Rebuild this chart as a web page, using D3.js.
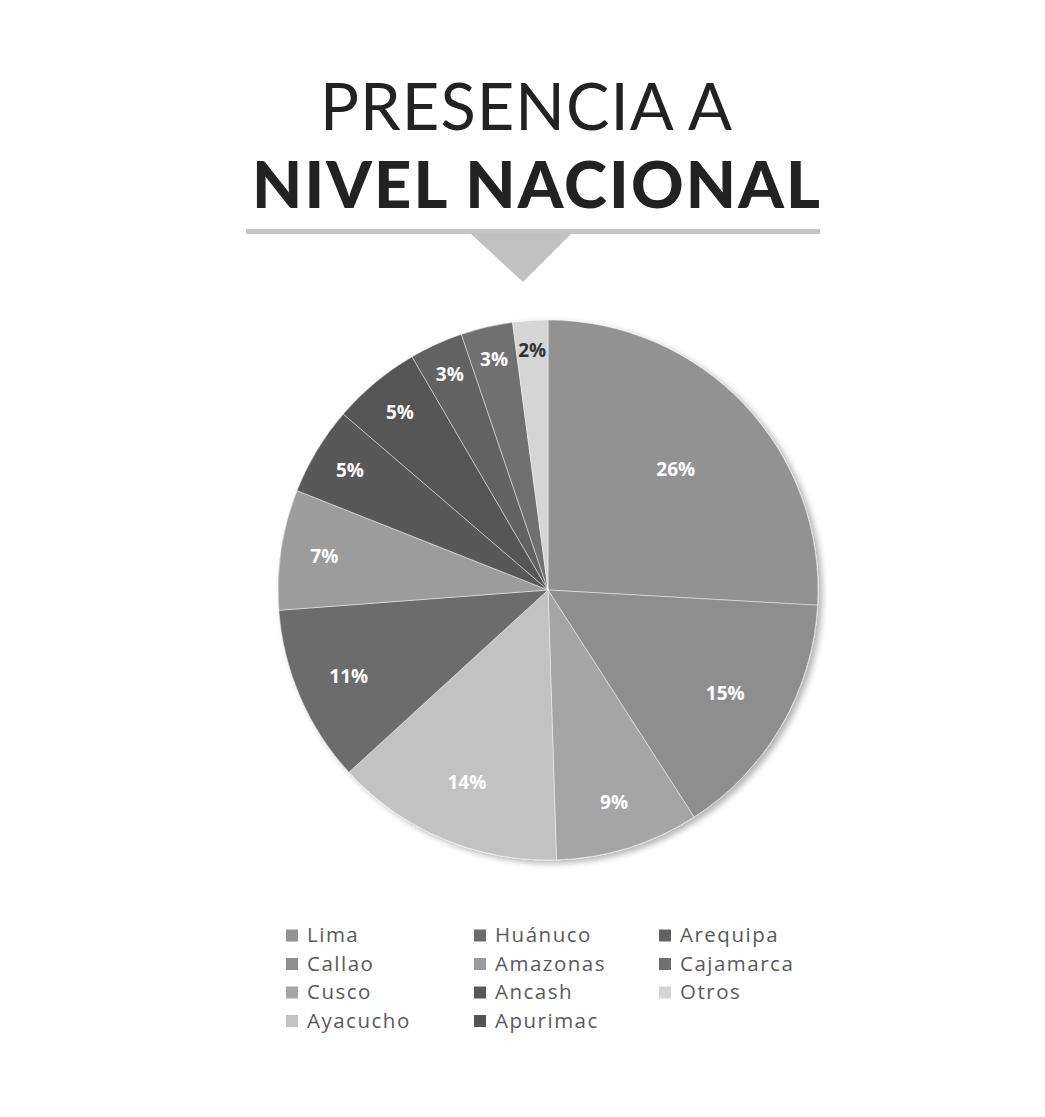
<!DOCTYPE html>
<html>
<head>
<meta charset="utf-8">
<script src="https://cdnjs.cloudflare.com/ajax/libs/d3/7.8.5/d3.min.js"></script>
<style>
  body { margin: 0; background: #fff; }
  svg { display: block; }
</style>
</head>
<body>
<div id="chart"></div>
<script>
var svgWidth = 1045;
var svgHeight = 1117;

var regions = ["Lima", "Callao", "Cusco", "Ayacucho", "Huánuco", "Amazonas", "Ancash", "Apurimac", "Arequipa", "Cajamarca", "Otros"];
var shares = [25.9, 15, 8.6, 13.7, 10.6, 7.2, 5.3, 5.3, 3.2, 3.1, 2.1];
var grays = ["#929292", "#8e8e8e", "#a5a5a5", "#c2c2c2", "#6c6c6c", "#9c9c9c", "#585858", "#555555", "#626262", "#707070", "#d5d5d5"];
var titleTop = "PRESENCIA A";
var titleBottom = "NIVEL NACIONAL";

var center = { x: 548, y: 590 };
var radius = 270;

var svg = d3.select("#chart")
  .append("svg")
  .attr("width", svgWidth)
  .attr("height", svgHeight);

var defs = svg.append("defs");
var shadow = defs.append("filter")
  .attr("id", "shadow")
  .attr("x", "-10%").attr("y", "-10%")
  .attr("width", "125%").attr("height", "125%");
shadow.append("feDropShadow")
  .attr("dx", 4).attr("dy", 3)
  .attr("stdDeviation", 3)
  .attr("flood-color", "#000")
  .attr("flood-opacity", 0.3);

// ---- title block
function drawTitle() {
  var g = svg.append("g");
  g.append("text")
    .attr("x", 320)
    .attr("y", 130)
    .attr("textLength", 412)
    .attr("lengthAdjust", "spacing")
    .style("font-family", "Lato, 'Open Sans', sans-serif")
    .style("font-weight", 400)
    .style("font-size", "65px")
    .style("fill", "#222")
    .text(titleTop);

  g.append("text")
    .attr("x", 252)
    .attr("y", 208)
    .attr("textLength", 568)
    .attr("lengthAdjust", "spacing")
    .style("font-family", "Lato, 'Open Sans', sans-serif")
    .style("font-weight", 900)
    .style("font-size", "65px")
    .style("fill", "#222")
    .text(titleBottom);

  g.append("rect")
    .attr("x", 246)
    .attr("y", 229)
    .attr("width", 574)
    .attr("height", 5)
    .attr("fill", "#c4c4c4");

  g.append("path")
    .attr("d", "M470,233 L572,233 L523,282 Z")
    .attr("fill", "#c1c1c1");
}

// ---- pie
function drawPie() {
  var pieData = d3.pie()
    .sort(null)
    .value(d => d.value)(regions.map((r, i) => ({ name: r, value: shares[i], color: grays[i] })));

  var total = d3.sum(shares);
  var arc = d3.arc().innerRadius(0).outerRadius(radius);

  var g = svg.append("g")
    .attr("transform", `translate(${center.x}, ${center.y})`);

  g.append("g")
    .attr("filter", "url(#shadow)")
    .selectAll("path")
    .data(pieData)
    .enter()
    .append("path")
    .attr("d", arc)
    .attr("fill", d => d.data.color)
    .attr("stroke", "rgba(255,255,255,0.45)")
    .attr("stroke-width", 1);

  // labels sit further out for the thin slices
  g.selectAll(".lbl")
    .data(pieData)
    .enter()
    .append("text")
    .attr("class", "lbl")
    .attr("transform", function(d) {
      var lr = radius * (0.91 - d.data.value / total);
      var c = d3.arc().innerRadius(lr).outerRadius(lr).centroid(d);
      return `translate(${c[0]}, ${c[1]})`;
    })
    .attr("dy", "0.36em")
    .style("text-anchor", "middle")
    .style("font-family", "'Open Sans', sans-serif")
    .style("font-weight", 700)
    .style("font-size", "19px")
    .style("fill", d => d3.hsl(d.data.color).l > 0.78 ? "#333" : "#fff")
    .text(d => Math.round(d.data.value) + "%");
}

// ---- legend, filled column by column (4 rows)
function drawLegend() {
  var colX = [286, 474, 659];
  var rowY = d3.scaleLinear().domain([0, 3]).range([942, 1027.5]);
  var rows = 4;

  var items = svg.append("g")
    .selectAll("g")
    .data(regions)
    .enter()
    .append("g")
    .attr("transform", (d, i) => `translate(${colX[Math.floor(i / rows)]}, ${rowY(i % rows)})`);

  items.append("rect")
    .attr("x", 0)
    .attr("y", -12.5)
    .attr("width", 12)
    .attr("height", 12)
    .attr("fill", (d, i) => grays[i]);

  items.append("text")
    .attr("x", 21)
    .attr("y", 0)
    .style("font-family", "'Open Sans', sans-serif")
    .style("font-size", "20.5px")
    .style("letter-spacing", "1.5px")
    .style("fill", "#595959")
    .text(d => d);
}

drawTitle();
drawPie();
drawLegend();
</script>
</body>
</html>
